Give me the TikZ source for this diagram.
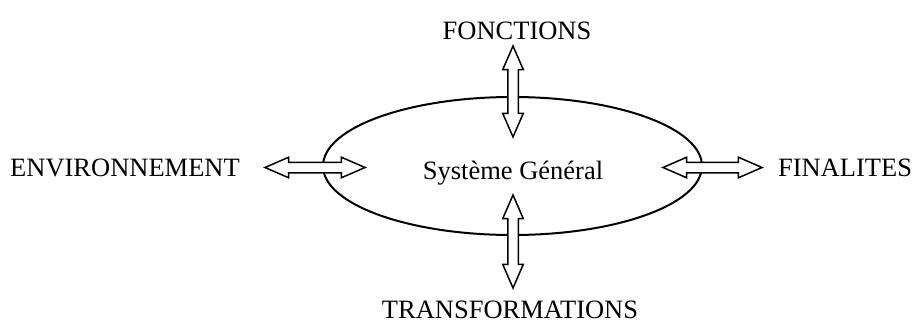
\documentclass[tikz,border=0pt]{standalone}
\usepackage{fontspec}
\setmainfont{Liberation Serif}
\usetikzlibrary{positioning,shapes.geometric,shapes.arrows}

\begin{document}
\begin{tikzpicture}[x=0.5pt,y=0.5pt,font=\fontsize{13.25}{16}\selectfont,
    label/.style={inner sep=0pt, outer sep=0pt},
    systeme/.style={ellipse, draw, line width=1pt, minimum width=189.5pt, minimum height=69pt, inner sep=0pt},
    dblarrow/.style={double arrow, draw, fill=white, line width=0.75pt, inner sep=2.25pt, double arrow head extend=2.5pt, double arrow tip angle=47}]
        \useasboundingbox (0,0) rectangle (913,322);
        % Nodes
        \node [systeme] (sys) at (512.5,156) {};
        \node [label] (sysname) at (513,148.5) {Système Général};
        \node [label] (fonc) at (517,291) {FONCTIONS};
        \node [label] (env) at (125,154) {ENVIRONNEMENT};
        \node [label] (fin) at (845,154) {FINALITES};
        \node [label] (trans) at (510,12) {TRANSFORMATIONS};
        
        % Arrows
        \node [dblarrow,rotate=90,minimum height=45.5pt] (fonc-sys) at (513,230.5) {};
        \node [dblarrow,rotate=90,minimum height=46.5pt] (sys-trans) at (513,80.5) {};
        \node [dblarrow,minimum height=50pt] (env-sys) at (315,154.5) {};
        \node [dblarrow,minimum height=49.5pt] (sys-fin) at (712.5,154.5) {};
        
\end{tikzpicture}
\end{document}
